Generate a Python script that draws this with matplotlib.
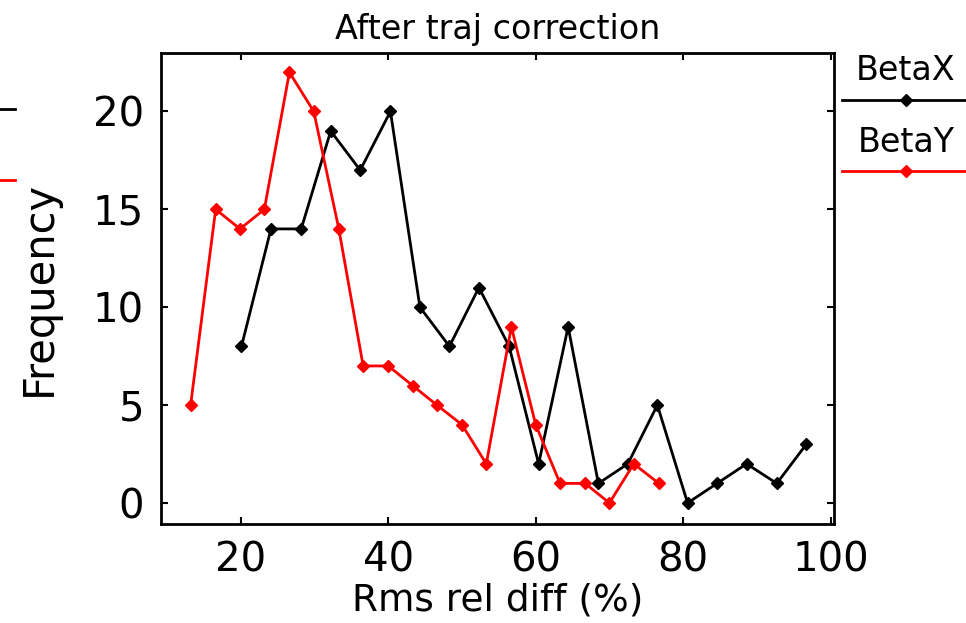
import matplotlib
matplotlib.use("Agg")
import matplotlib.pyplot as plt
from matplotlib.lines import Line2D

# Data
betax_x = [20.1, 24.1, 28.2, 32.2, 36.2, 40.3, 44.3, 48.3, 52.3, 56.4,
           60.4, 64.4, 68.5, 72.5, 76.5, 80.6, 84.6, 88.6, 92.7, 96.7]
betax_y = [8, 14, 14, 19, 17, 20, 10, 8, 11, 8,
           2, 9, 1, 2, 5, 0, 1, 2, 1, 3]
betay_x = [13.2, 16.6, 19.9, 23.2, 26.6, 29.9, 33.3, 36.6, 40.0, 43.3,
           46.6, 50.0, 53.3, 56.7, 60.0, 63.3, 66.7, 70.0, 73.3, 76.7]
betay_y = [5, 15, 14, 15, 22, 20, 14, 7, 7, 6,
           5, 4, 2, 9, 4, 1, 1, 0, 2, 1]
xticks = [20, 40, 60, 80, 100]
yticks = [0, 5, 10, 15, 20]
series_names = ["BetaX", "BetaY"]
series_colors = ["black", "red"]

plt.rcParams['font.family'] = ['DejaVu Sans']

fig = plt.figure(figsize=(9.66, 6.23), dpi=100)
ax = fig.add_axes([0.1664, 0.1584, 0.6973, 0.757])

ax.plot(betax_x, betax_y, color=series_colors[0], lw=2, marker='D', ms=6.5,
        mfc=series_colors[0], mec=series_colors[0])
ax.plot(betay_x, betay_y, color=series_colors[1], lw=2, marker='D', ms=6.5,
        mfc=series_colors[1], mec=series_colors[1])

ax.set_xlim(9.15, 100.5)
ax.set_ylim(-1.09, 23.0)
ax.set_xticks(xticks)
ax.set_yticks(yticks)
ax.tick_params(direction='in', length=5, width=1.5, top=True, right=True,
               labeltop=False, labelright=False, labelsize=29, pad=12)
for s in ax.spines.values():
    s.set_linewidth(2)

ax.set_title("After traj correction", fontsize=24, pad=10)
ax.set_xlabel("Rms rel diff (%)", fontsize=27, labelpad=1)
ax.set_ylabel("Frequency", fontsize=30, labelpad=24)

# Legend on the right (figure coordinates)
W, H = 966.0, 623.0
fig.text(906 / W, 1 - 70 / H, series_names[0], ha='center', va='center', fontsize=24)
fig.add_artist(Line2D([842 / W, 1.0], [1 - 100 / H] * 2, color=series_colors[0], lw=2))
fig.add_artist(Line2D([906 / W], [1 - 100 / H], color=series_colors[0], marker='D', ms=6.5))
fig.text(906 / W, 1 - 143 / H, series_names[1], ha='center', va='center', fontsize=24)
fig.add_artist(Line2D([842 / W, 1.0], [1 - 171 / H] * 2, color=series_colors[1], lw=2))
fig.add_artist(Line2D([906 / W], [1 - 171 / H], color=series_colors[1], marker='D', ms=6.5))

# Cut-off legend stubs at the far left
fig.add_artist(Line2D([0, 15 / W], [1 - 109 / H] * 2, color=series_colors[0], lw=2))
fig.add_artist(Line2D([0, 15 / W], [1 - 180 / H] * 2, color=series_colors[1], lw=2))

fig.savefig("out.png", dpi=100)
